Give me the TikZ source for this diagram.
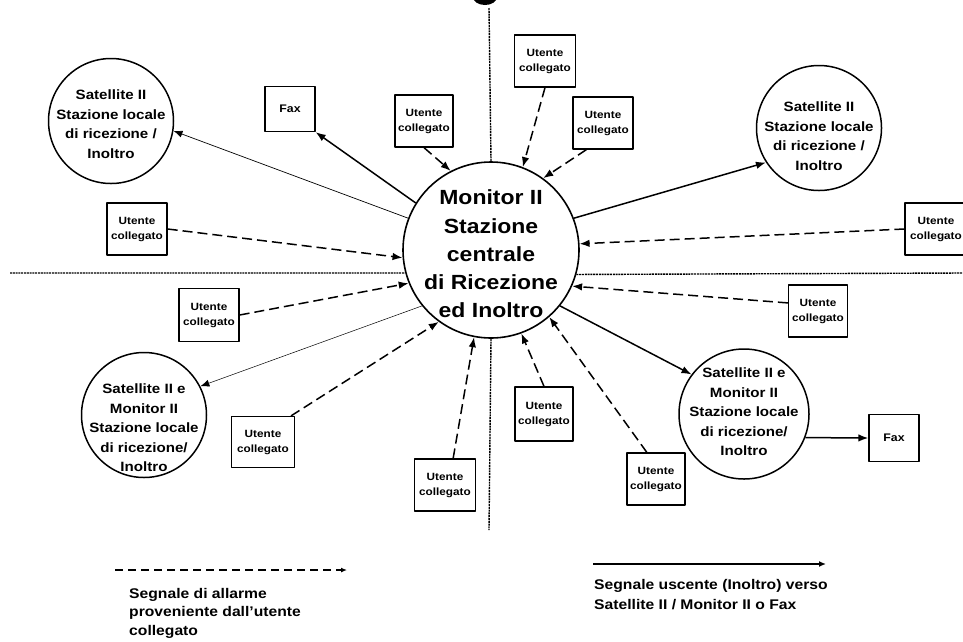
\documentclass[tikz,border=0pt]{standalone}
\usepackage{fontspec}
\setmainfont{Liberation Sans}[FakeStretch=1.12]
\usetikzlibrary{arrows.meta}
\newcommand\myufont{\fontsize{10.5}{15}\selectfont\bfseries}
\newcommand\mysfont{\fontsize{13.5}{19.5}\selectfont\bfseries}
\newcommand\mycfont{\fontsize{20.5}{28.3}\selectfont\bfseries}
\newcommand\mylfont{\fontsize{14}{18.5}\selectfont\bfseries}
\newcommand\mylfontb{\fontsize{14}{20}\selectfont\bfseries}
\newcommand\myffont{\fontsize{11}{13}\selectfont\bfseries}
\begin{document}
\begin{tikzpicture}[x=1pt,y=-1pt,line join=round,
  ubox/.style={draw,line width=1.3pt,minimum width=60pt,minimum height=52pt,inner sep=0pt,align=center,font=\myufont},
  faxbox/.style={draw,line width=1.3pt,minimum width=50pt,minimum height=45pt,inner sep=0pt,font=\myffont},
  sat/.style={circle,draw,line width=1.5pt,minimum size=125pt,inner sep=0pt},
  sattext/.style={align=center,font=\mysfont,inner sep=0pt},
  alarm/.style={line width=1.5pt,dash pattern=on 10pt off 5pt,-{Latex[length=10pt,width=7.5pt]}},
  outsig/.style={line width=1.5pt,-{Latex[length=10pt,width=7.5pt]}},
  thinsig/.style={line width=0.7pt,-{Latex[length=9pt,width=7pt]}},
  sepline/.style={line width=1.4pt,dash pattern=on 2pt off 0.8pt}]
\useasboundingbox (0,0) rectangle (963,641);

% blob at top
\fill (485,-3) ellipse [x radius=12pt, y radius=8pt];

% central station
\node[circle,draw,line width=1.6pt,minimum size=176pt,inner sep=0pt] (c) at (491,250) {};
\node[align=center,font=\mycfont,inner sep=0pt] (ct) at (491,254) {Monitor II\\Stazione\\centrale\\di Ricezione\\ed Inoltro};

% separator lines
\coordinate (vt) at (489,8);
\coordinate (vb) at (489,530);
\coordinate (hl) at (10,273);
\coordinate (hr) at (963,273);
\draw[sepline] (vt) -- (c.north);
\draw[sepline] (c.south) -- (vb);
\draw[sepline] (hl) -- (c.195.2);
\draw[sepline] (c.344.8) -- (hr);

% satellites
\node[sat] (s1) at (111,121) {};
\node[sattext] (s1t) at (111,124) {Satellite II\\Stazione locale\\di ricezione /\\Inoltro};
\node[sat] (s2) at (819,128) {};
\node[sattext] (s2t) at (819,136) {Satellite II\\Stazione locale\\di ricezione /\\Inoltro};
\node[sat] (s3) at (144,415) {};
\node[sattext] (s3t) at (144,428) {Satellite II e\\Monitor II\\Stazione locale\\di ricezione/\\Inoltro};
\node[sat,minimum size=130pt] (s4) at (744,414) {};
\node[sattext] (s4t) at (744,412) {Satellite II e\\Monitor II\\Stazione locale\\di ricezione/\\Inoltro};

% fax boxes
\node[faxbox] (f1) at (290,109) {Fax};
\node[faxbox,minimum height=47pt] (f2) at (894,438) {Fax};

% utente boxes
\node[ubox,minimum width=58pt] (ua) at (424,121) {Utente\\collegato};
\node[ubox,minimum width=61pt] (ub) at (545,61) {Utente\\collegato};
\node[ubox] (uc) at (603,123) {Utente\\collegato};
\node[ubox,minimum width=62pt] (ur1) at (936,229) {Utente\\collegato};
\node[ubox] (ul1) at (137,229) {Utente\\collegato};
\node[ubox,minimum height=53pt] (ul2) at (209,315) {Utente\\collegato};
\node[ubox,minimum width=63pt,minimum height=51pt] (ul3) at (263,442) {Utente\\collegato};
\node[ubox,minimum width=61pt] (ud1) at (445,485) {Utente\\collegato};
\node[ubox,minimum width=58pt,minimum height=54pt] (ud2) at (544,414) {Utente\\collegato};
\node[ubox,minimum width=58pt] (ud3) at (656,479) {Utente\\collegato};
\node[ubox,minimum width=59pt] (ur2) at (818,311) {Utente\\collegato};

% outgoing signals
\draw[outsig] (c.148) -- (f1.south east);
\draw[thinsig] (c.159) -- (s1.351);
\draw[outsig] (c.21.5) -- (s2.213);
\draw[thinsig,line width=0.5pt] (c.219) -- (s3.27);
\draw[outsig] (c.321) -- (s4.143.6);
\draw[outsig] (s4.339) -- (f2.west);

% alarm signals
\draw[alarm] (ua.south) -- (c.117);
\draw[alarm] (ub.south) -- (c.69.4);
\draw[alarm] (uc.238) -- (c.54);
\draw[alarm] (ur1.west) -- (c.4.6);
\draw[alarm] (ul1.east) -- (c.185);
\draw[alarm] (ul2.east) -- (c.202.7);
\draw[alarm] (ul3.43) -- (c.234);
\draw[alarm] (ud1.73) -- (c.259.6);
\draw[alarm] (ud2.north) -- (c.290.7);
\draw[alarm] (ud3.109) -- (c.311.2);
\draw[alarm] (ur2.165) -- (c.336.2);

% legend
\coordinate (l1s) at (115,570);
\coordinate (l1e) at (347,570);
\draw[alarm,line width=1.4pt,dash pattern=on 8pt off 5pt,-{Latex[length=6pt,width=5pt]}] (l1s) -- (l1e);
\node[anchor=north west,align=left,font=\mylfont,inner sep=0pt] (lt1) at (129,588) {Segnale di allarme\\proveniente dall'utente\\collegato};
\coordinate (l2s) at (593,564);
\coordinate (l2e) at (826,564);
\draw[outsig,-{Latex[length=7pt,width=6pt]}] (l2s) -- (l2e);
\node[anchor=north west,align=left,font=\mylfontb,inner sep=0pt] (lt2) at (594,579) {Segnale uscente (Inoltro) verso\\Satellite II / Monitor II o Fax};
\end{tikzpicture}
\end{document}
